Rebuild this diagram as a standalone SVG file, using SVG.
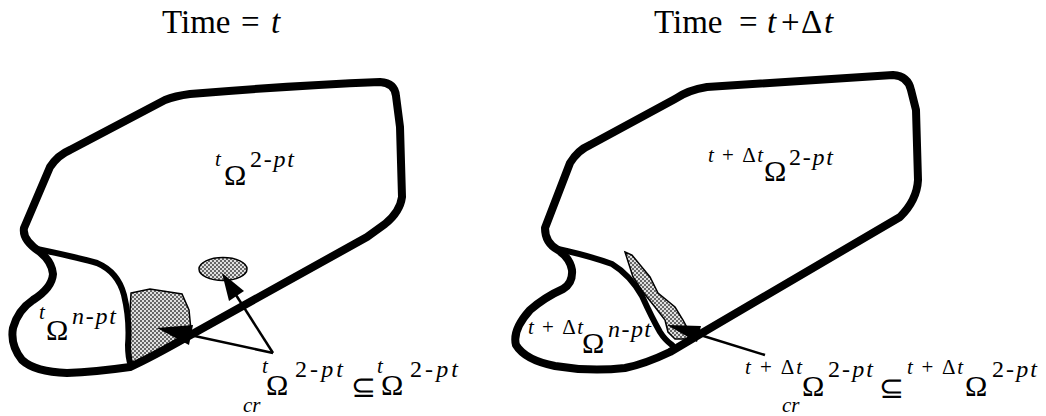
<svg xmlns="http://www.w3.org/2000/svg" width="1046" height="416" viewBox="0 0 1046 416">
<style>
.bd{fill:none;stroke:#000;stroke-width:8;stroke-linejoin:round;stroke-linecap:round}
.in{fill:none;stroke:#000;stroke-width:6;stroke-linejoin:round;stroke-linecap:round}
.sh{fill:url(#dots);stroke:#000;stroke-width:1.5}
.ln{fill:none;stroke:#000;stroke-width:2.5}
.ah{fill:#000;stroke:none}
text{font-family:"Liberation Serif",serif;fill:#000}
.ti{font-size:33px}
.om{font-size:30px}
.sp{font-size:24px}
.ss{font-size:21px}
.it{font-style:italic}
</style>
<defs>
<pattern id="dots" width="4" height="4" patternUnits="userSpaceOnUse">
<rect width="4" height="4" fill="#e0e0e0"/>
<circle cx="1" cy="1" r="0.95" fill="#333"/>
<circle cx="3" cy="3" r="0.95" fill="#333"/>
</pattern>
</defs>
<rect width="1046" height="416" fill="#fff"/>

<g id="title-left">
<text class="ti" x="162" y="33">Time</text>
<text class="ti" x="241" y="33">=</text>
<text class="ti it" x="271" y="33">t</text>
</g>
<g id="title-right">
<text class="ti" x="654" y="33">Time</text>
<text class="ti" x="739" y="33">=</text>
<text class="ti it" x="767" y="33">t</text>
<text class="ti" x="781" y="33">+</text>
<text class="ti" x="801" y="33">Δ</text>
<text class="ti it" x="824" y="33">t</text>
</g>

<g id="left-domain">
<path class="sh" d="M131,293 L150,289 L182,294 L189,310 L191,330 L186,341 L142,362 L131,362 L129,330 Z"/>
<path class="bd" d="M70,150 L165,100 Q175,96 190,94 C250,89 330,84 380,82 Q395,83 396,96 L400,127 L402,197 Q400,212 385,224 L367,237 L187,337 Q150,358 130,367 Q95,372 67,373 Q35,372 22,360 Q10,345 13,328 Q18,310 33,300 Q52,288 53,274 Q52,262 40,252 Q22,240 24,228 L50,167 Q58,155 70,150 Z"/>
<path class="in" d="M37,249 Q80,258 97,263 Q118,272 124,295 Q130,320 128,345 Q128,358 131,366"/>
<ellipse class="sh" cx="223" cy="269" rx="24" ry="11.5" stroke-width="2"/>
</g>

<g id="right-domain">
<path class="sh" d="M625,252 L632,255 L650,277 L658,293 L675,307 L683,320 L690,333 L687,339 L675,339 L668,332 L665,320 L655,307 L643,292 L633,277 Z"/>
<path class="bd" d="M590,145 L675,99 Q688,90 707,87 L893,75 Q908,76 911,90 L916,110 L918,180 Q917,200 900,217 L702,333 Q680,346 670,352 Q645,364 625,368 Q590,372 555,366 Q525,360 516,345 Q512,330 530,310 Q545,297 563,289 Q573,283 572,270 Q570,258 558,250 Q545,243 545,228 L570,163 Q578,150 590,145 Z"/>
<path class="in" d="M558,249 Q590,256 612,264 Q630,275 642,296 Q652,318 660,332 Q665,340 672,345"/>
</g>

<g id="labels">
<g id="lbl-t-2pt">
<text class="ss it" x="215" y="166">t</text>
<text class="om" x="224" y="185">Ω</text>
<text class="sp" x="250" y="167" textLength="44" lengthAdjust="spacing">2-<tspan class="it">pt</tspan></text>
</g>
<g id="lbl-t-npt">
<text class="ss it" x="39" y="319">t</text>
<text class="om" x="46" y="340">Ω</text>
<text class="sp" x="72" y="324" textLength="44" lengthAdjust="spacing"><tspan class="it">n</tspan>-<tspan class="it">pt</tspan></text>
</g>
<g id="lbl-cr-left">
<text class="ss it" x="243" y="412">cr</text>
<text class="ss it" x="262" y="373">t</text>
<text class="om" x="266" y="395">Ω</text>
<text class="sp" x="295" y="377" textLength="48" lengthAdjust="spacing">2-<tspan class="it">pt</tspan></text>
<text class="om" x="351" y="397">⊆</text>
<text class="ss it" x="377" y="373">t</text>
<text class="om" x="381" y="395">Ω</text>
<text class="sp" x="410" y="377" textLength="48" lengthAdjust="spacing">2-<tspan class="it">pt</tspan></text>
</g>
<g id="lbl-dt-2pt">
<text class="ss" x="708" y="162" textLength="55" lengthAdjust="spacing"><tspan class="it">t</tspan> + Δ<tspan class="it">t</tspan></text>
<text class="om" x="764" y="181">Ω</text>
<text class="sp" x="789" y="165" textLength="44" lengthAdjust="spacing">2-<tspan class="it">pt</tspan></text>
</g>
<g id="lbl-dt-npt">
<text class="ss" x="528" y="334" textLength="55" lengthAdjust="spacing"><tspan class="it">t</tspan> + Δ<tspan class="it">t</tspan></text>
<text class="om" x="582" y="353">Ω</text>
<text class="sp" x="608" y="337" textLength="43" lengthAdjust="spacing"><tspan class="it">n</tspan>-<tspan class="it">pt</tspan></text>
</g>
<g id="lbl-cr-right">
<text class="ss" x="745" y="374" textLength="57" lengthAdjust="spacing"><tspan class="it">t</tspan> + Δ<tspan class="it">t</tspan></text>
<text class="ss it" x="782" y="412">cr</text>
<text class="om" x="802" y="396">Ω</text>
<text class="sp" x="828" y="377" textLength="45" lengthAdjust="spacing">2-<tspan class="it">pt</tspan></text>
<text class="om" x="879" y="398">⊆</text>
<text class="ss" x="907" y="374" textLength="56" lengthAdjust="spacing"><tspan class="it">t</tspan> + Δ<tspan class="it">t</tspan></text>
<text class="om" x="965" y="396">Ω</text>
<text class="sp" x="992" y="377" textLength="45" lengthAdjust="spacing">2-<tspan class="it">pt</tspan></text>
</g>
</g>

<g id="connectors">
<line class="ln" x1="273" y1="353" x2="190" y2="335"/>
<polygon class="ah" points="157,328 193,325 189,345"/>
<line class="ln" x1="273" y1="353" x2="236" y2="295"/>
<polygon class="ah" points="222,273 244,291 229,301"/>
<line class="ln" x1="765" y1="355" x2="697" y2="334"/>
<polygon class="ah" points="667,325 701,326 697,342"/>
</g>
</svg>
